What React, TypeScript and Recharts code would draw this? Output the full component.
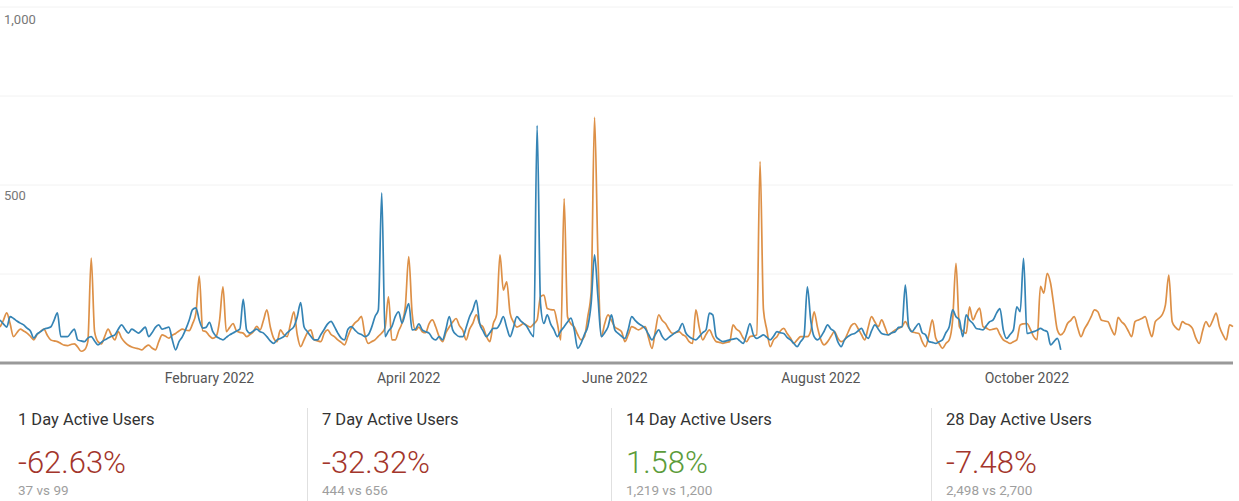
import React from "react";
import { LineChart, Line, XAxis, YAxis, CartesianGrid } from "recharts";

// daily active users, Dec 2021 .. Dec 2022 (index = day)
const prevPeriod = [
  101, 120, 141, 110, 74, 85, 95, 90, 84, 75,
  65, 80, 88, 95, 78, 65, 62, 60, 55, 50,
  49, 52, 54, 45, 33, 37, 60, 295, 88, 60,
  54, 75, 95, 78, 65, 88, 70, 58, 50, 45,
  42, 40, 37, 45, 50, 42, 37, 60, 79, 75,
  70, 78, 83, 90, 95, 92, 91, 110, 140, 244,
  91, 88, 76, 69, 75, 120, 214, 88, 100, 111,
  90, 86, 84, 74, 80, 88, 103, 93, 120, 149,
  102, 70, 60, 93, 80, 74, 110, 144, 79, 46,
  65, 85, 93, 65, 62, 60, 84, 93, 80, 74,
  65, 58, 51, 75, 98, 112, 120, 131, 80, 55,
  60, 65, 75, 84, 100, 186, 65, 65, 90, 112,
  160, 299, 140, 92, 101, 88, 85, 110, 121, 101,
  74, 60, 85, 101, 115, 125, 105, 92, 65, 95,
  112, 135, 110, 101, 75, 60, 110, 135, 304, 205,
  228, 140, 115, 101, 105, 111, 105, 101, 110, 121,
  186, 191, 153, 150, 149, 111, 65, 462, 130, 110,
  101, 80, 65, 74, 130, 200, 690, 300, 74, 110,
  135, 120, 101, 95, 88, 60, 80, 102, 98, 93,
  98, 102, 70, 41, 90, 135, 120, 111, 95, 83,
  85, 88, 80, 74, 60, 55, 149, 100, 65, 80,
  93, 75, 60, 58, 55, 58, 60, 107, 95, 88,
  70, 60, 74, 76, 79, 566, 150, 93, 46, 65,
  74, 90, 97, 83, 70, 55, 65, 74, 74, 74,
  90, 144, 100, 65, 51, 60, 75, 88, 70, 60,
  65, 85, 105, 111, 97, 80, 65, 100, 130, 115,
  102, 121, 100, 79, 85, 93, 97, 102, 116, 100,
  88, 85, 83, 60, 46, 80, 121, 70, 55, 41,
  55, 65, 120, 280, 102, 90, 83, 158, 121, 140,
  154, 102, 98, 93, 95, 97, 80, 65, 60, 55,
  60, 65, 107, 110, 111, 95, 74, 65, 215, 196,
  252, 224, 158, 93, 79, 88, 111, 120, 130, 100,
  74, 95, 111, 130, 149, 144, 121, 118, 116, 95,
  79, 128, 116, 107, 90, 74, 116, 121, 125, 130,
  100, 74, 116, 125, 135, 163, 247, 116, 100, 93,
  116, 110, 107, 97, 70, 55, 90, 116, 102, 120,
  140, 102, 80, 65, 107, 102,
];

const currentPeriod = [
  121, 110, 101, 130, 125, 118, 112, 107, 98, 90,
  70, 82, 88, 95, 98, 101, 120, 141, 74, 74,
  74, 85, 95, 65, 62, 60, 70, 74, 62, 51,
  58, 65, 70, 75, 79, 95, 107, 95, 84, 95,
  90, 84, 92, 101, 74, 85, 100, 107, 95, 98,
  101, 65, 37, 60, 74, 95, 120, 150, 155, 120,
  98, 100, 114, 88, 75, 69, 65, 72, 79, 84,
  90, 95, 179, 93, 84, 90, 95, 88, 84, 74,
  62, 55, 65, 69, 74, 85, 93, 102, 130, 170,
  102, 88, 75, 65, 65, 80, 95, 110, 117, 102,
  84, 70, 65, 95, 102, 93, 84, 80, 74, 79,
  100, 130, 149, 478, 74, 90, 102, 130, 144, 112,
  140, 167, 93, 95, 110, 93, 88, 84, 70, 65,
  74, 65, 95, 130, 93, 80, 74, 74, 100, 130,
  150, 176, 111, 90, 74, 85, 97, 97, 110, 130,
  100, 74, 100, 130, 120, 111, 102, 85, 74, 667,
  167, 111, 135, 110, 93, 74, 90, 102, 115, 126,
  93, 41, 55, 80, 102, 168, 304, 186, 74, 85,
  102, 135, 93, 83, 75, 69, 95, 130, 120, 111,
  105, 97, 80, 65, 80, 93, 75, 65, 72, 79,
  86, 93, 111, 85, 74, 68, 65, 74, 85, 93,
  140, 135, 74, 65, 60, 62, 65, 67, 69, 62,
  55, 80, 111, 80, 69, 74, 79, 72, 65, 75,
  88, 85, 83, 72, 65, 55, 46, 60, 74, 214,
  120, 74, 65, 74, 90, 107, 95, 88, 60, 46,
  65, 74, 80, 83, 90, 97, 80, 69, 90, 107,
  95, 83, 80, 79, 85, 88, 100, 102, 219, 102,
  88, 100, 111, 85, 79, 60, 58, 55, 60, 65,
  85, 102, 149, 130, 121, 74, 135, 120, 111, 97,
  95, 93, 105, 116, 121, 140, 153, 93, 69, 80,
  93, 158, 144, 294, 83, 85, 88, 92, 97, 92,
  88, 51, 60, 69, 37,
];

const tickDays = [62, 121, 182, 243, 304];
const tickLabels = ["February 2022", "April 2022", "June 2022", "August 2022", "October 2022"];
const yTicks = [0, 250, 500, 750, 1000];
const labelledY = [500, 1000];

const statTitles = ["1 Day Active Users", "7 Day Active Users", "14 Day Active Users", "28 Day Active Users"];
const statChanges = ["-62.63%", "-32.32%", "1.58%", "-7.48%"];
const statCompare = ["37 vs 99", "444 vs 656", "1,219 vs 1,200", "2,498 vs 2,700"];

const BLUE = "#3584b5";
const ORANGE = "#dd9047";
const RED = "#a3352b";
const GREEN = "#5c9c3a";
const FONT = "Roboto, 'Noto Sans', sans-serif";

const data = prevPeriod.map((v, i) => ({
  day: i,
  prev: v,
  cur: i < currentPeriod.length ? currentPeriod[i] : null,
}));

const YTick = (props: any) => {
  const { x, y, payload } = props;
  if (!labelledY.includes(payload.value)) return null;
  return (
    <text x={x} y={y + 15} fill="#777" fontSize={13} fontFamily={FONT} textAnchor="start">
      {payload.value.toLocaleString("en-US")}
    </text>
  );
};

const colWidths = [307, 304, 320, 308];

export default function App() {
  return (
    <div
      style={{
        position: "absolute",
        left: 0,
        top: 0,
        width: 1239,
        height: 501,
        background: "#fff",
        fontFamily: FONT,
        overflow: "hidden",
      }}
    >
      <LineChart
        width={1239}
        height={395}
        data={data}
        margin={{ top: 7, right: 6, left: 0, bottom: 0 }}
      >
        <CartesianGrid vertical={false} stroke="#f2f2f2" />
        <XAxis
          dataKey="day"
          type="number"
          domain={[0, 365]}
          ticks={tickDays}
          tickFormatter={(d: number) => tickLabels[tickDays.indexOf(d)]}
          axisLine={{ stroke: "#999999", strokeWidth: 3 }}
          tickLine={false}
          tickMargin={4}
          height={32}
          tick={{ fontSize: 14, fill: "#555", fontFamily: FONT }}
        />
        <YAxis
          mirror
          domain={[0, 1000]}
          ticks={yTicks}
          axisLine={false}
          tickLine={false}
          tickSize={0}
          tickMargin={4}
          tick={<YTick />}
        />
        <Line
          type="monotone"
          dataKey="prev"
          stroke={ORANGE}
          strokeWidth={1.7}
          dot={false}
          isAnimationActive={false}
        />
        <Line
          type="monotone"
          dataKey="cur"
          stroke={BLUE}
          strokeWidth={1.7}
          dot={false}
          isAnimationActive={false}
        />
      </LineChart>

      <div style={{ position: "absolute", left: 0, top: 408, display: "flex", height: 93 }}>
        {statTitles.map((t, i) => (
          <div
            key={t}
            style={{
              width: colWidths[i],
              boxSizing: "border-box",
              paddingLeft: i === 0 ? 18 : 14,
              borderLeft: i === 0 ? "none" : "1px solid #e0e0e0",
              position: "relative",
            }}
          >
            <div style={{ position: "absolute", top: 2, fontSize: 16.5, lineHeight: "20px", color: "#333" }}>
              {t}
            </div>
            <div
              style={{
                position: "absolute",
                top: 37,
                fontSize: 31,
                fontWeight: 300,
                lineHeight: "36px",
                color: statChanges[i].startsWith("-") ? RED : GREEN,
              }}
            >
              {statChanges[i]}
            </div>
            <div style={{ position: "absolute", top: 74, fontSize: 13.5, lineHeight: "16px", color: "#9e9e9e" }}>
              {statCompare[i]}
            </div>
          </div>
        ))}
      </div>
    </div>
  );
}
